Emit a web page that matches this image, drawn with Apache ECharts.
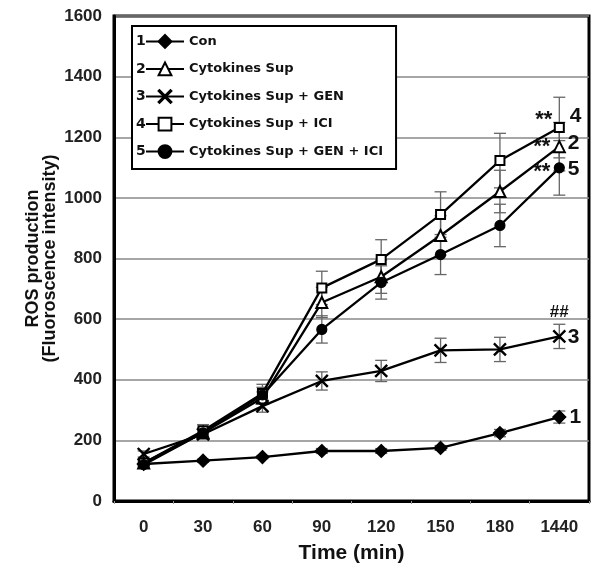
<!DOCTYPE html>
<html>
<head>
<meta charset="utf-8">
<script src="https://cdn.jsdelivr.net/npm/echarts@6/dist/echarts.min.js"></script>
<style>html,body{margin:0;padding:0;background:#fff;}#c{width:600px;height:569px;}</style>
</head>
<body>
<div id="c"></div>
<script>
const categories = ['0', '30', '60', '90', '120', '150', '180', '1440'];
const seriesNames = ['Con', 'Cytokines Sup', 'Cytokines Sup + GEN', 'Cytokines Sup + ICI', 'Cytokines Sup + GEN + ICI'];
const seriesNumbers = ['1', '2', '3', '4', '5'];
const conValues = [122, 133, 145, 165, 165, 175, 224, 277];
const supValues = [125, 225, 340, 655, 740, 876, 1021, 1169];
const genValues = [155, 220, 313, 396, 429, 497, 500, 543];
const iciValues = [125, 232, 355, 703, 797, 945, 1123, 1232];
const genIciValues = [120, 225, 350, 566, 721, 813, 909, 1099];
const conErr = [5, 5, 5, 8, 8, 8, 12, 20];
const supErr = [10, 15, 20, 50, 55, 65, 70, 80];
const genErr = [10, 15, 20, 30, 35, 40, 40, 40];
const iciErr = [10, 20, 30, 55, 65, 75, 90, 100];
const genIciErr = [10, 15, 25, 45, 55, 66, 70, 90];
const yTicks = [0, 200, 400, 600, 800, 1000, 1200, 1400, 1600];
const endNotes = ['', '**', '##', '**', '**'];

const values = [conValues, supValues, genValues, iciValues, genIciValues];
const errs = [conErr, supErr, genErr, iciErr, genIciErr];
const symbols = [
  'diamond', 'emptyTriangle',
  'path://M0,0.7L0.7,0L5,4.3L9.3,0L10,0.7L5.7,5L10,9.3L9.3,10L5,5.7L0.7,10L0,9.3L4.3,5Z',
  'emptyRect', 'circle'
];
const symbolSizes = [13, 11, 12, 9, 10];

const FONT = 'Liberation Sans, Arial, sans-serif';

function endLabel(i) {
  const num = seriesNumbers[i];
  const note = endNotes[i];
  const base = {show: true, color: '#111', fontFamily: FONT};
  if (i === 0) {
    return Object.assign(base, {position: 'right', distance: 3, formatter: num, fontSize: 21, fontWeight: 'bold'});
  }
  if (i === 2) {
    return Object.assign(base, {
      position: 'inside', width: 40, offset: [0, -12],
      formatter: '{h|' + note + '}\n{n|' + num + '}',
      rich: {
        h: {align: 'center', fontSize: 17, fontWeight: 'bold', lineHeight: 25, fontFamily: FONT, color: '#111'},
        n: {align: 'right', fontSize: 21, fontWeight: 'bold', lineHeight: 25, fontFamily: FONT, color: '#111'}
      }
    });
  }
  const offs = {1: [-3, -3], 3: [-1, -11], 4: [-3, 1]};
  return Object.assign(base, {
    position: 'inside', width: 46, offset: offs[i],
    formatter: '{s|' + note + '}{n|' + num + '}',
    rich: {
      s: {align: 'left', fontSize: 22, fontWeight: 'bold', fontFamily: FONT, color: '#111', padding: [6, 0, 0, 0]},
      n: {align: 'right', fontSize: 21, fontWeight: 'bold', fontFamily: FONT, color: '#111'}
    }
  });
}

const series = [];
values.forEach((vals, i) => {
  series.push({
    name: seriesNames[i] + '__err',
    type: 'custom',
    z: 1,
    silent: true,
    data: vals.map((v, j) => [j, v - errs[i][j], v + errs[i][j]]),
    renderItem: function (params, api) {
      const lo = api.coord([api.value(0), api.value(1)]);
      const hi = api.coord([api.value(0), api.value(2)]);
      const w = 6;
      const st = {stroke: '#666', lineWidth: 1.3};
      return {
        type: 'group',
        children: [
          {type: 'line', shape: {x1: lo[0], y1: lo[1], x2: hi[0], y2: hi[1]}, style: st},
          {type: 'line', shape: {x1: lo[0] - w, y1: lo[1], x2: lo[0] + w, y2: lo[1]}, style: st},
          {type: 'line', shape: {x1: hi[0] - w, y1: hi[1], x2: hi[0] + w, y2: hi[1]}, style: st}
        ]
      };
    }
  });
});
values.forEach((vals, i) => {
  series.push({
    name: seriesNames[i],
    type: 'line',
    z: 3,
    symbol: symbols[i],
    symbolSize: symbolSizes[i],
    showAllSymbol: true,
    lineStyle: {color: '#000', width: 2.3},
    itemStyle: {color: '#000', borderColor: '#000', borderWidth: 1.2},
    emphasis: {disabled: true},
    data: vals.map((v, j) => j === vals.length - 1 ? {value: v, label: endLabel(i)} : v)
  });
});

const chart = echarts.init(document.getElementById('c'), null, {renderer: 'canvas'});
chart.setOption({
  animation: false,
  backgroundColor: '#fff',
  grid: {left: 114, right: 11, top: 16, bottom: 67, show: true, borderColor: '#000', borderWidth: 3, backgroundColor: 'transparent'},
  legend: {
    data: seriesNames,
    orient: 'vertical',
    left: 132, top: 26,
    padding: [8, 13, 10, 13],
    itemWidth: 38, itemHeight: 16, itemGap: 12.75,
    backgroundColor: '#fff',
    borderColor: '#000', borderWidth: 2,
    textStyle: {fontFamily: 'DejaVu Sans', fontWeight: 'bold', fontSize: 13, color: '#111'},
    selectedMode: false
  },
  graphic: seriesNumbers.map((n, i) => ({
    type: 'text', left: 136, top: 34.5 + i * 27.5, z: 100,
    style: {text: n, font: 'bold 14px DejaVu Sans', fill: '#111'}
  })),
  xAxis: {
    type: 'category',
    data: categories,
    boundaryGap: true,
    name: 'Time (min)',
    nameLocation: 'middle',
    nameGap: 42,
    nameTextStyle: {fontFamily: FONT, fontWeight: 'bold', fontSize: 21, color: '#111'},
    axisLine: {lineStyle: {color: '#000', width: 3}},
    axisTick: {show: true, length: 3, lineStyle: {color: '#999'}},
    axisLabel: {fontFamily: FONT, fontWeight: 'bold', fontSize: 17, color: '#222', margin: 18},
    splitLine: {show: false}
  },
  yAxis: {
    type: 'value',
    min: yTicks[0], max: yTicks[yTicks.length - 1], interval: 200,
    name: 'ROS production\n(Fluoroscence intensity)',
    nameLocation: 'middle',
    nameGap: 55,
    nameRotate: 90,
    nameMoveOverlap: false,
    nameTextStyle: {fontFamily: FONT, fontWeight: 'bold', fontSize: 18, color: '#111', lineHeight: 17},
    axisLine: {show: true, lineStyle: {color: '#000', width: 3}},
    axisTick: {show: false},
    axisLabel: {fontFamily: FONT, fontWeight: 'bold', fontSize: 17, color: '#222', margin: 12, formatter: v => String(v)},
    splitLine: {show: true, lineStyle: {color: '#888', width: 1.5}}
  },
  series: series
});
</script>
</body>
</html>
